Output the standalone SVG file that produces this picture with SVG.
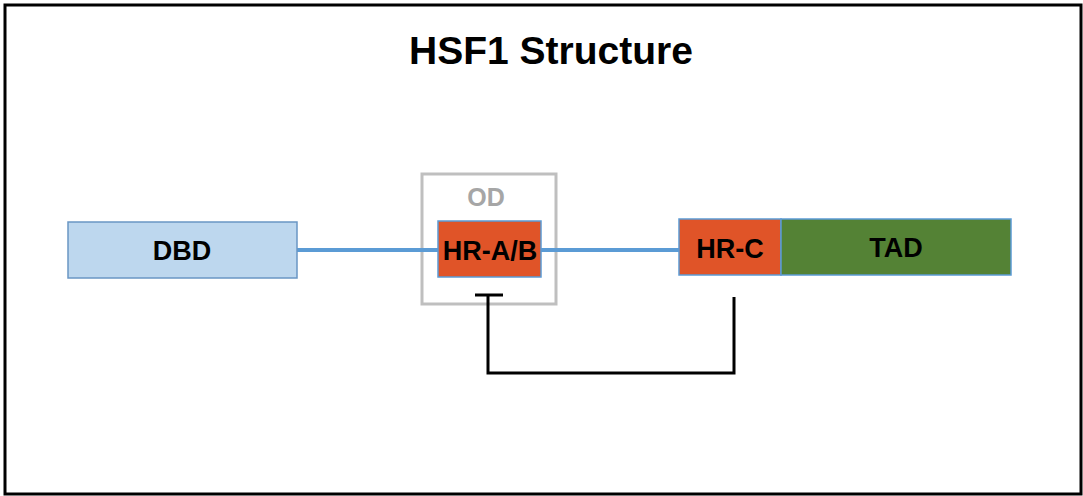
<svg xmlns="http://www.w3.org/2000/svg" width="1083" height="496" viewBox="0 0 1083 496">
<style>
.lbl{font-family:"Liberation Sans",Arial,sans-serif;font-weight:bold;font-size:27px;fill:#000;text-anchor:middle}
.dom{stroke:#5B9BD5;stroke-width:1.5}
</style>
<rect x="0" y="0" width="1083" height="496" fill="#fff"/>
<rect x="5" y="5" width="1076" height="489" fill="#fff" stroke="#000" stroke-width="3"/>
<text x="551" y="64" font-family="Liberation Sans,Arial,sans-serif" font-weight="bold" font-size="39" text-anchor="middle">HSF1 Structure</text>
<g id="OD">
<rect x="422" y="174" width="134" height="130" fill="none" stroke="#BFBFBF" stroke-width="3"/>
<text x="486" y="206" font-family="Liberation Sans,Arial,sans-serif" font-weight="bold" font-size="25" fill="#A6A6A6" text-anchor="middle">OD</text>
</g>
<g id="connectors" fill="none">
<line x1="297" y1="250" x2="680" y2="250" stroke="#5B9BD5" stroke-width="4"/>
<polyline points="734,297 734,373 488,373 488,295" stroke="#000" stroke-width="3"/>
<line x1="475" y1="295" x2="503" y2="295" stroke="#000" stroke-width="3"/>
</g>
<g id="DBD">
<rect x="68" y="222" width="229" height="56" fill="#BDD7EE" stroke="#6A96C4" stroke-width="1.5"/>
<text class="lbl" x="182" y="260">DBD</text>
</g>
<g id="HRAB">
<rect x="438" y="221" width="103" height="56" fill="#E05428" class="dom"/>
<text class="lbl" x="490" y="260">HR-A/B</text>
</g>
<g id="HRC">
<rect x="679" y="219" width="102" height="56" fill="#E05428" class="dom"/>
<text class="lbl" x="730" y="258">HR-C</text>
</g>
<g id="TAD">
<rect x="781" y="219" width="230" height="56" fill="#548235" class="dom"/>
<text class="lbl" x="896" y="257">TAD</text>
</g>
</svg>
